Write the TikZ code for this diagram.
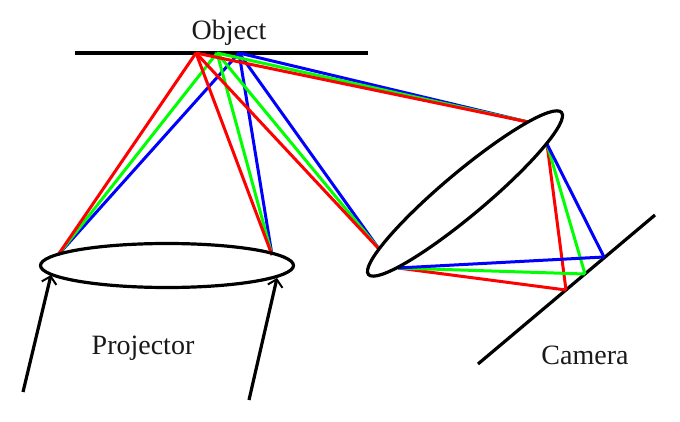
\documentclass[tikz,border=0pt]{standalone}
\usepackage{fontspec}
\setmainfont{Liberation Serif}
\usetikzlibrary{arrows.meta,shapes.geometric}
\definecolor{rayR}{RGB}{255,0,0}
\definecolor{rayG}{RGB}{0,255,0}
\definecolor{rayB}{RGB}{0,0,255}
\tikzset{
  ray/.style={line width=3pt},
  redray/.style={ray,draw=rayR},
  greenray/.style={ray,draw=rayG},
  blueray/.style={ray,draw=rayB},
  blackline/.style={line width=3.2pt,draw=black},
  lens/.style={blackline,ellipse,inner sep=0pt,outer sep=0pt},
  beam/.style={blackline,-{Straight Barb[length=7pt,width=15pt,line width=2pt]}},
  caption/.style={font=\fontsize{28}{30}\selectfont,text=black!90,inner sep=0pt}
}
\begin{document}
\begin{tikzpicture}[x=1pt,y=-1pt]
\useasboundingbox (0,0) rectangle (680,422);
% points
\coordinate (oR) at (196,53);
\coordinate (oG) at (217,53);
\coordinate (oB) at (239,53);
\coordinate (pL) at (58,255);
\coordinate (pR) at (272,255);
\coordinate (lT) at (528,122);
\coordinate (lL) at (379,249);
\coordinate (lS) at (547,144);
\coordinate (lB) at (398,268);
\coordinate (cR) at (566,290);
\coordinate (cG) at (585,274);
\coordinate (cB) at (604,257);
\coordinate (objA) at (75,53);
\coordinate (objB) at (368,53);
\coordinate (camA) at (478,364);
\coordinate (camB) at (655,215);
\coordinate (a1s) at (23,392);
\coordinate (a1e) at (51,275);
\coordinate (a2s) at (249,400);
\coordinate (a2e) at (277,278);
% black lines
\draw[blackline] (objA) -- (objB);
\draw[blackline] (camA) -- (camB);
% projector to object
\draw[blueray] (pL) -- (oB);
\draw[greenray] (pL) -- (oG);
\draw[redray] (pL) -- (oR);
\draw[blueray] (pR) -- (oB);
\draw[greenray] (pR) -- (oG);
\draw[redray] (pR) -- (oR);
% object to lens
\draw[blueray] (oB) -- (lL);
\draw[greenray] (oG) -- (lL);
\draw[redray] (oR) -- (lL);
\draw[blueray] (oB) -- (lT);
\draw[greenray] (oG) -- (lT);
\draw[redray] (oR) -- (lT);
% lens to camera
\draw[redray] (lS) -- (cR);
\draw[redray] (lB) -- (cR);
\draw[greenray] (lS) -- (cG);
\draw[greenray] (lB) -- (cG);
\draw[blueray] (lS) -- (cB);
\draw[blueray] (lB) -- (cB);
% lenses
\node[lens,minimum width=253pt,minimum height=44pt] (proj) at (167,265.5) {};
\node[lens,minimum width=252pt,minimum height=43pt,rotate=40] (cam) at (465,193.5) {};
\draw[beam] (a1s) -- (a1e);
\draw[beam] (a2s) -- (a2e);
\node[caption] (t1) at (229,33) {Object};
\node[caption] (t2) at (143,348) {Projector};
\node[caption] (t3) at (585,355.5) {Camera};
\end{tikzpicture}
\end{document}
